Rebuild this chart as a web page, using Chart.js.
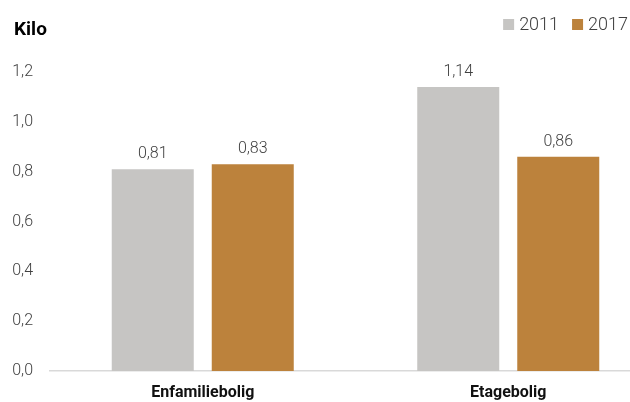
<!DOCTYPE html>
<html>
<head>
<meta charset="utf-8">
<script src="https://cdn.jsdelivr.net/npm/chart.js@4.4.1/dist/chart.umd.min.js"></script>
<style>
  html, body { margin: 0; padding: 0; background: #ffffff; }
  #wrap { position: relative; width: 630px; height: 402px; overflow: hidden; }
</style>
</head>
<body>
<div id="wrap"><canvas id="c"></canvas></div>
<script>
// ---- data ----
const categories = ['Enfamiliebolig', 'Etagebolig'];
const seriesNames = ['2011', '2017'];
const values2011 = [0.81, 1.14];
const values2017 = [0.83, 0.86];
const yTicks = [0, 0.2, 0.4, 0.6, 0.8, 1.0, 1.2];
const unitLabel = 'Kilo';

const colors = ['#C6C5C3', '#BC823C'];
const fontFamily = 'Roboto, "Liberation Sans", sans-serif';
const fmt = (v, d) => v.toFixed(d).replace('.', ',');

// Plot area in the source runs past the right edge of the picture
const plotOverflowRight = 31;

const extendPlot = {
  id: 'extendPlot',
  afterLayout(chart) {
    const x = chart.scales.x;
    x.right += plotOverflowRight;
    x.width += plotOverflowRight;
    x.configure();
  }
};

const dataLabels = {
  id: 'dataLabels',
  afterDatasetsDraw(chart) {
    const ctx = chart.ctx;
    ctx.save();
    ctx.font = '300 16px ' + fontFamily;
    ctx.fillStyle = '#404040';
    ctx.textAlign = 'center';
    ctx.textBaseline = 'alphabetic';
    chart.data.datasets.forEach((ds, i) => {
      chart.getDatasetMeta(i).data.forEach((bar, j) => {
        ctx.fillText(fmt(ds.data[j], 2), bar.x, bar.y - 11);
      });
    });
    ctx.restore();
  }
};

const headerText = {
  id: 'headerText',
  afterDraw(chart) {
    const ctx = chart.ctx;
    ctx.save();
    // unit title
    ctx.font = 'bold 19px ' + fontFamily;
    ctx.fillStyle = '#000000';
    ctx.textAlign = 'left';
    ctx.textBaseline = 'alphabetic';
    ctx.fillText(unitLabel, 14, 35);
    // legend (right aligned)
    ctx.font = '300 18px ' + fontFamily;
    const box = 11, gapBox = 5, gapItem = 13;
    const widths = seriesNames.map(n => ctx.measureText(n).width);
    let total = 0;
    widths.forEach((w, i) => { total += box + gapBox + w + (i < widths.length - 1 ? gapItem : 0); });
    let x = 628 - total;
    seriesNames.forEach((n, i) => {
      ctx.fillStyle = colors[i];
      ctx.fillRect(x, 19, box, box);
      x += box + gapBox;
      ctx.fillStyle = '#404040';
      ctx.fillText(n, x, 30);
      x += widths[i] + gapItem;
    });
    ctx.restore();
  }
};

new Chart(document.getElementById('c'), {
  type: 'bar',
  data: {
    labels: categories,
    datasets: [
      { label: seriesNames[0], data: values2011, backgroundColor: colors[0] },
      { label: seriesNames[1], data: values2017, backgroundColor: colors[1] }
    ]
  },
  options: {
    responsive: true,
    maintainAspectRatio: false,
    animation: false,
    layout: { padding: { top: 72, left: 0, right: 0, bottom: 0 } },
    datasets: { bar: { barPercentage: 0.82, categoryPercentage: 0.6547 } },
    plugins: { legend: { display: false }, tooltip: { enabled: false }, title: { display: false } },
    scales: {
      x: {
        grid: { display: false, drawTicks: false },
        border: { display: true, color: '#D9D9D9', width: 1.5 },
        ticks: { color: '#111111', font: { family: fontFamily, size: 16, weight: 'bold' }, padding: 12 },
        afterFit(s) { s.height = 31; }
      },
      y: {
        min: 0, max: 1.2,
        grid: { display: false, drawTicks: false },
        border: { display: false },
        afterBuildTicks(s) { s.ticks = yTicks.map(v => ({ value: v })); },
        ticks: {
          color: '#404040',
          font: { family: fontFamily, size: 16, weight: '300' },
          padding: 17,
          callback: v => fmt(v, 1)
        },
        afterFit(s) { s.width = 50; }
      }
    }
  },
  plugins: [extendPlot, dataLabels, headerText]
});
</script>
</body>
</html>
